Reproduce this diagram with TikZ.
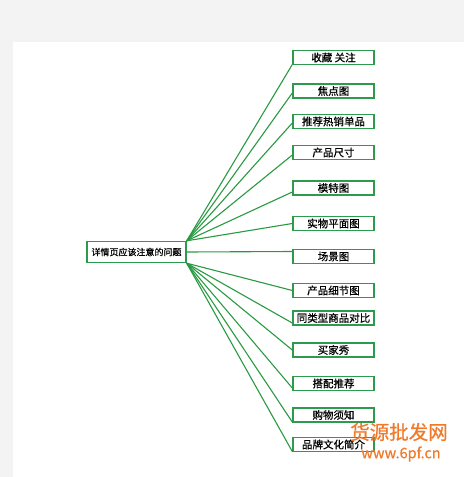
\documentclass[tikz,border=0pt]{standalone}
\usepackage{fontspec}
\setmainfont{Noto Sans CJK SC}[FakeBold=0.6]
\definecolor{boxgreen}{HTML}{2E9A4E}
\definecolor{linegreen}{HTML}{2A9A42}
\definecolor{bggray}{HTML}{F3F3F3}
\definecolor{wmorange}{HTML}{F07A2A}
\tikzset{
  rootbox/.style={draw=boxgreen, line width=1.4pt, fill=white, minimum width=99pt, minimum height=21pt, inner sep=0pt, font=\fontsize{9}{9}\selectfont},
  leafbox/.style={draw=boxgreen, line width=1.4pt, fill=white, minimum width=81pt, minimum height=14pt, inner sep=0pt, font=\fontsize{10.5}{10.5}\selectfont},
  link/.style={draw=linegreen, line width=1.1pt},
  wm/.style={text=wmorange, inner sep=0pt}
}
\begin{document}
\begin{tikzpicture}[x=1pt,y=-1pt]
\fill[bggray] (0,0) rectangle (464,477);
\fill[white] (13,42) rectangle (464,477);
\useasboundingbox (0,0) rectangle (464,477);
\node[rootbox] (root) at (136.5,252) {详情页应该注意的问题};
\foreach \n/\y/\t/\o/\a in {
  c1/57.5/收藏 关注/7/north east,
  c2/91/焦点图/2/north east,
  c3/121.5/推荐热销单品/1.5/north east,
  c4/152.5/产品尺寸/2.5/north east,
  c5/188/模特图/4/north east,
  c6/223.5/实物平面图/0/north east,
  c7/256.5/场景图/-5/east,
  c8/290.5/产品细节图/0/south east,
  c9/318/同类型商品对比/5/south east,
  c10/350/买家秀/0/south east,
  c11/383.5/搭配推荐/4.5/south east,
  c12/415/购物须知/7/south east,
  c13/444.5/品牌文化简介/7/south east}{
  \node[leafbox] (\n) at (333.5,\y) {\t};
  \draw[link] (root.\a) -- ([yshift=-\o pt]\n.west);
}
\node[wm, font=\fontsize{19.5}{19.5}\selectfont] (wm1) at (399,432) {货源批发网};
\node[wm, font=\fontsize{14.5}{14.5}\selectfont\itshape] (wm2) at (401,454) {www.6pf.cn};
\end{tikzpicture}
\end{document}
